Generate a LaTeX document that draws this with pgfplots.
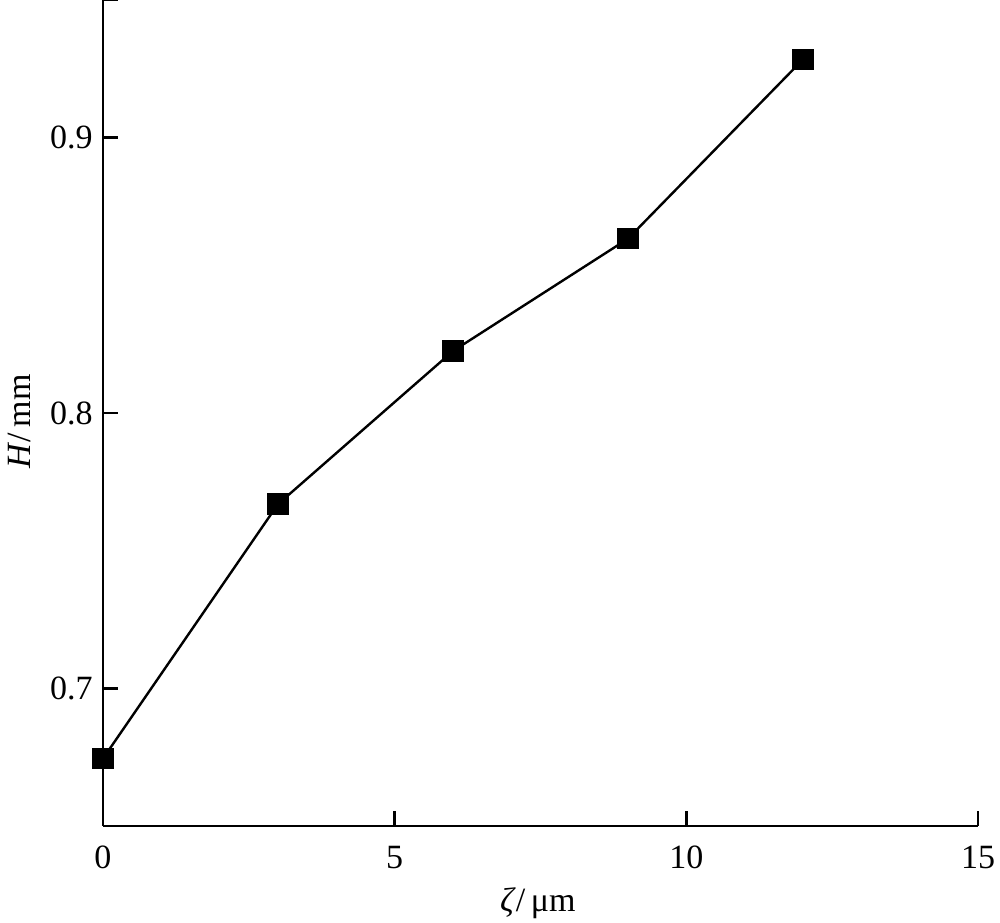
\documentclass[border=0pt]{standalone}
\usepackage{fontspec}
\setmainfont{Liberation Serif}
\usepackage{pgfplots}
\pgfplotsset{compat=1.18}
\begin{document}
\fontsize{17}{20}\selectfont
\begin{tikzpicture}
\begin{axis}[
  scale only axis,
  width=437.5pt, height=413pt,
  xmin=0, xmax=15, ymin=0.65, ymax=0.95,
  axis lines*=left,
  axis line style={line width=1.4pt},
  xtick={0,5,10,15},
  ytick={0.7,0.8,0.9},
  extra y ticks={0.95},
  extra y tick labels={},
  tick align=inside,
  major tick length=7.5pt,
  tick style={line width=1.3pt, black},
  /pgf/number format/assume math mode=true,
  xticklabel style={font=\fontsize{17}{20}\selectfont, anchor=base, inner sep=0pt, yshift=-21.5pt},
  yticklabel style={font=\fontsize{17}{20}\selectfont, anchor=east, inner sep=0pt, xshift=-5pt, /pgf/number format/fixed, /pgf/number format/precision=1, /pgf/number format/fixed zerofill},
  xlabel={\textit{ζ}/\,μm},
  ylabel={\textit{H}/\,mm},
  xlabel style={at={(axis description cs:0.497,0)}, anchor=base, inner sep=0pt, yshift=-43pt},
  ylabel style={at={(axis description cs:0,0.49)}, anchor=base, inner sep=0pt, yshift=36.5pt},
  label style={font=\fontsize{17}{20}\selectfont},
  clip=false,
]
\addplot[black, line width=1.2pt, mark=square*, mark size=4.8pt, mark options={solid, fill=black}]
coordinates {(0,0.6745) (3,0.7669) (6,0.8225) (9,0.8633) (12,0.9284)};
\end{axis}
\pgfresetboundingbox
\path ([shift={(-51.5pt,-48.5pt)}]current axis.south west) rectangle ([shift={(11pt,0pt)}]current axis.north east);
\end{tikzpicture}
\end{document}
